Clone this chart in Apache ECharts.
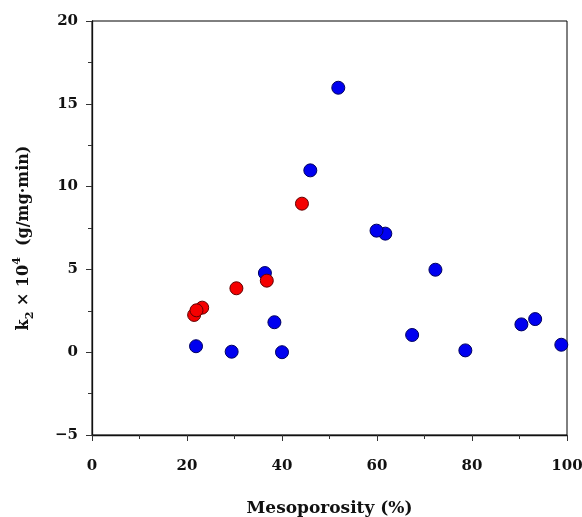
<!DOCTYPE html>
<html>
<head>
<meta charset="utf-8">
<script src="https://cdn.jsdelivr.net/npm/echarts@6/dist/echarts.min.js"></script>
<style>
  html, body { margin: 0; padding: 0; background: #fff; }
  #chart { width: 582px; height: 517px; }
</style>
</head>
<body>
<div id="chart"></div>
<script>
// Second-order rate constant k2 (×10^4 g/mg·min) against mesoporosity (%)
const blueMeso = [21.9, 29.4, 36.4, 38.4, 40.0, 45.96, 51.85, 61.75, 59.9, 67.4, 72.3, 78.6, 90.4, 93.3, 98.8];
const blueK2   = [0.36, 0.03, 4.78, 1.81, 0.0, 10.98, 15.97, 7.16, 7.34, 1.04, 4.98, 0.11, 1.68, 2.0, 0.45];

const redMeso = [21.5, 23.2, 22.0, 30.4, 36.8, 44.2];
const redK2   = [2.25, 2.69, 2.53, 3.86, 4.32, 8.97];

const xTicks = { min: 0, max: 100, step: 20 };
const yTicks = { min: -5, max: 20, step: 5 };

const pairs = (xs, ys) => xs.map((x, i) => [x, ys[i]]);

const font = 'DejaVu Serif';
const chart = echarts.init(document.getElementById('chart'), null, { renderer: 'canvas' });

chart.setOption({
  animation: false,
  backgroundColor: '#ffffff',
  grid: {
    left: 92, right: 15, top: 21, bottom: 82,
    outerBoundsMode: 'none',
    containLabel: false,
    show: true, borderColor: '#000', borderWidth: 1, backgroundColor: 'transparent'
  },
  xAxis: {
    type: 'value',
    min: xTicks.min, max: xTicks.max, interval: xTicks.step,
    name: 'Mesoporosity (%)',
    nameLocation: 'middle',
    nameGap: 65,
    nameTextStyle: { fontFamily: font, fontWeight: 'bold', fontSize: 17, color: '#111' },
    axisLine: { show: true, onZero: false, lineStyle: { color: '#111', width: 1.3 } },
    axisTick: { show: true, inside: false, length: 6, lineStyle: { color: '#333' } },
    minorTick: { show: true, splitNumber: 2, length: 4, lineStyle: { color: '#333' } },
    splitLine: { show: false },
    axisLabel: { margin: 24, fontFamily: font, fontWeight: 'bold', fontSize: 15, color: '#111' }
  },
  yAxis: {
    type: 'value',
    min: yTicks.min, max: yTicks.max, interval: yTicks.step,
    name: '{m|k}{sub|2}{m| × 10}{sup|4}{m|  (g/mg·min)}',
    nameLocation: 'middle',
    nameRotate: 90,
    nameGap: 56,
    nameTextStyle: {
      fontFamily: font, fontWeight: 'bold', fontSize: 16, color: '#111',
      padding: [0, 0, 0, -20],
      rich: {
        m:   { fontFamily: font, fontWeight: 'bold', fontSize: 16, color: '#111', lineHeight: 24 },
        sub: { fontFamily: font, fontWeight: 'bold', fontSize: 11, color: '#111', lineHeight: 12, verticalAlign: 'bottom' },
        sup: { fontFamily: font, fontWeight: 'bold', fontSize: 11, color: '#111', lineHeight: 12, verticalAlign: 'top' }
      }
    },
    axisLine: { show: true, onZero: false, lineStyle: { color: '#111', width: 1.3 } },
    axisTick: { show: true, inside: false, length: 6, lineStyle: { color: '#333' } },
    minorTick: { show: true, splitNumber: 2, length: 4, lineStyle: { color: '#333' } },
    splitLine: { show: false },
    axisLabel: {
      margin: 14, fontFamily: font, fontWeight: 'bold', fontSize: 15, color: '#111',
      formatter: v => String(v).replace('-', '\u2212')
    }
  },
  series: [
    {
      type: 'scatter',
      data: pairs(blueMeso, blueK2),
      symbol: 'circle',
      symbolSize: 13,
      itemStyle: { color: '#0000f0', borderColor: '#000060', borderWidth: 1, opacity: 1 }
    },
    {
      type: 'scatter',
      data: pairs(redMeso, redK2),
      symbol: 'circle',
      symbolSize: 13,
      itemStyle: { color: '#f50000', borderColor: '#600000', borderWidth: 1, opacity: 1 }
    }
  ]
});
</script>
</body>
</html>
